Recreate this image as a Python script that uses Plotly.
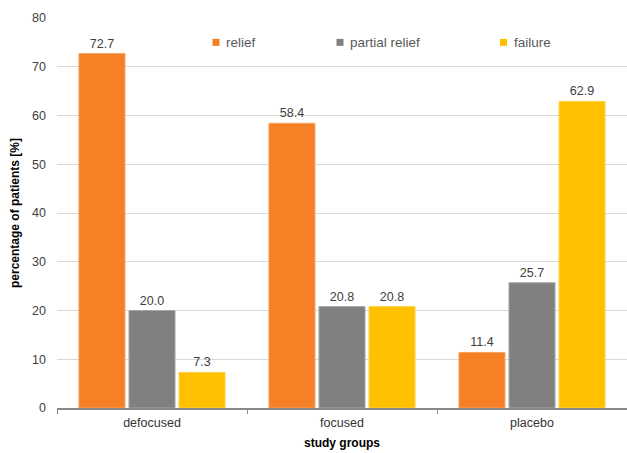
import plotly.graph_objects as go

# Outcome shares per study group
groups = ["defocused", "focused", "placebo"]
series_names = ["relief", "partial relief", "failure"]
relief = [72.7, 58.4, 11.4]
partial_relief = [20.0, 20.8, 25.7]
failure = [7.3, 20.8, 62.9]
y_ticks = [0, 10, 20, 30, 40, 50, 60, 70, 80]

colors = ["#F58025", "#808080", "#FFC000"]
edge_colors = ["#F9A35F", "#A6A6A6", "#FFD24D"]
values = [relief, partial_relief, failure]

FONT = "Liberation Sans, Arial, sans-serif"

fig = go.Figure()
for name, vals, c, ec in zip(series_names, values, colors, edge_colors):
    fig.add_trace(go.Bar(
        x=groups, y=vals, name=name,
        marker=dict(color=c, line=dict(color=ec, width=1)),
        text=[f"{v:.1f}" for v in vals],
        textposition="outside",
        textfont=dict(family=FONT, size=12.5, color="#404040"),
        cliponaxis=False,
        showlegend=False,
    ))

# Legend row drawn inside the plot area
legend_x = [216, 340, 503.5]
shapes = []
annotations = []
for name, c, xp in zip(series_names, colors, legend_x):
    xf = (xp - 57) / 570
    shapes.append(dict(
        type="rect", xref="paper", yref="y",
        xsizemode="pixel", ysizemode="pixel",
        xanchor=xf, yanchor=75,
        x0=-3.5, x1=3.5, y0=-3.5, y1=3.5,
        fillcolor=c, line=dict(width=0),
    ))
    annotations.append(dict(
        x=xf, y=75, xref="paper", yref="y",
        text=name, showarrow=False,
        xanchor="left", yanchor="middle", xshift=8,
        font=dict(family=FONT, size=13.5, color="#595959"),
    ))

fig.update_layout(
    width=627, height=453,
    margin=dict(l=57, r=0, t=18, b=45),
    paper_bgcolor="white", plot_bgcolor="white",
    barmode="group", bargap=0.21, bargroupgap=0.08,
    font=dict(family=FONT, color="#404040"),
    shapes=shapes, annotations=annotations,
)
fig.update_yaxes(
    range=[0, 80], tickvals=y_ticks,
    showgrid=True, gridcolor="#D9D9D9", gridwidth=1,
    zeroline=False, showline=False,
    tickfont=dict(family=FONT, size=12.5, color="#404040"),
    ticks="", ticklabelstandoff=10,
    title=dict(text="<b>percentage of patients [%]</b>",
               font=dict(family=FONT, size=12, color="#000000"),
               standoff=9),
)
fig.update_xaxes(
    showline=True, linecolor="#898989", linewidth=1.5,
    ticks="outside", tickson="boundaries", ticklen=4,
    tickcolor="#898989", tickwidth=1,
    tickfont=dict(family=FONT, size=12.5, color="#333333"),
    ticklabelstandoff=2,
    title=dict(text="<b>study groups</b>",
               font=dict(family=FONT, size=12, color="#000000"),
               standoff=10),
)

fig.write_html("out.html")
